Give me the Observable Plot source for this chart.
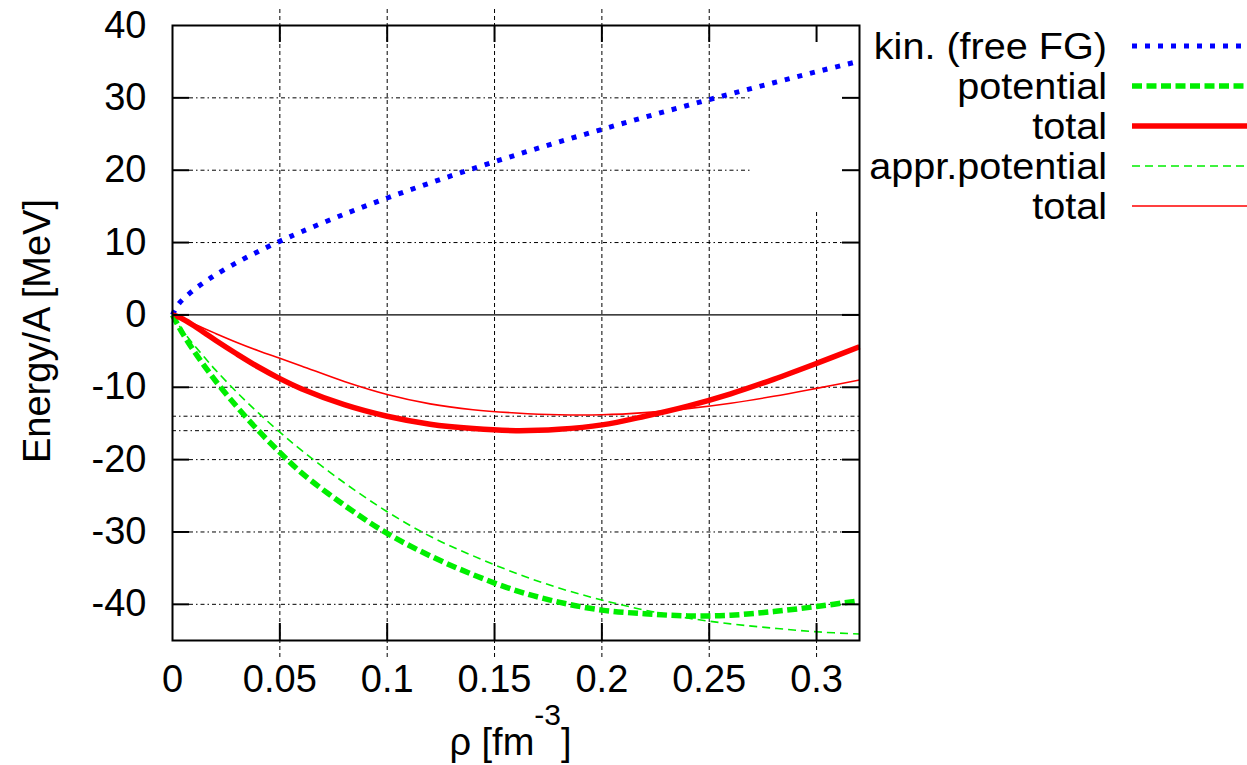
<!DOCTYPE html>
<html>
<head>
<meta charset="utf-8">
<script src="https://cdn.jsdelivr.net/npm/d3@7"></script>
<script src="https://cdn.jsdelivr.net/npm/@observablehq/plot@0.6"></script>
<style>
html, body { margin: 0; padding: 0; background: #fff; }
#wrap { position: relative; width: 1247px; height: 765px; overflow: hidden; }
#wrap > svg { position: absolute; left: 0; top: 0; }
</style>
</head>
<body>
<div id="wrap"></div>
<script>
// ---- data ----
const rho = [0, 0.0025, 0.005, 0.01, 0.015, 0.02, 0.03, 0.04, 0.05, 0.06, 0.08, 0.10, 0.12, 0.14, 0.16, 0.18, 0.20, 0.22, 0.24, 0.26, 0.28, 0.30, 0.32];
const kinetic = [0, 1.38, 2.19, 3.48, 4.56, 5.53, 7.24, 8.77, 10.18, 11.49, 13.92, 16.16, 18.24, 20.22, 22.10, 23.91, 25.64, 27.33, 28.96, 30.55, 32.09, 33.61, 35.08];
const potential = [0, -1.4, -2.7, -5.0, -7.1, -9.1, -12.7, -16.0, -19.0, -21.8, -26.3, -30.2, -33.3, -35.9, -38.1, -39.7, -40.8, -41.3, -41.6, -41.5, -41.0, -40.3, -39.5];
const total = [0, -0.25, -0.6, -1.5, -2.5, -3.5, -5.4, -7.2, -8.8, -10.2, -12.4, -14.0, -15.1, -15.7, -16.0, -15.8, -15.2, -14.0, -12.6, -10.9, -8.9, -6.7, -4.4];
const apprPotential = [0, -1.2, -2.3, -4.15, -5.9, -7.6, -10.7, -13.55, -16.2, -18.7, -23.2, -27.2, -30.6, -33.3, -35.7, -37.75, -39.4, -40.8, -41.9, -42.7, -43.3, -43.8, -44.1];
const apprTotal = [0, -0.3, -0.6, -1.25, -1.9, -2.55, -3.8, -4.95, -6.0, -7.05, -9.2, -11.0, -12.3, -13.1, -13.55, -13.8, -13.8, -13.5, -12.95, -12.2, -11.25, -10.15, -9.0];

const seriesNames = ["kin. (free FG)", "potential", "total", "appr.potential", "total"];

const xTicks = [0, 0.05, 0.1, 0.15, 0.2, 0.25, 0.3];
const xTickLabels = ["0", "0.05", "0.1", "0.15", "0.2", "0.25", "0.3"];
const yTicks = [40, 30, 20, 10, 0, -10, -20, -30, -40];
const yTickLabels = ["40", "30", "20", "10", "0", "-10", "-20", "-30", "-40"];

// grid lines (gnuplot-style); some are cut short by the key area
const gridY = [30, 20, 10, -10, -20, -30, -40];
const gridYEnd = [0.277, 0.277, 0.32, 0.32, 0.32, 0.32, 0.32];
const gridX = [0.05, 0.1, 0.15, 0.2, 0.25, 0.3];
const gridXTop = [40, 40, 40, 40, 40, 11.8];
const refLevels = [-14, -16];

const xLabel = "ρ [fm";
const xLabelSup = "-3";
const xLabelEnd = "]";
const yLabel = "Energy/A [MeV]";

// ---- styles ----
const FONT = "'Liberation Sans', Arial, Helvetica, sans-serif";
const styles = [
  {stroke: "#0000ff", strokeWidth: 5, strokeDasharray: "5,8"},
  {stroke: "#00ee00", strokeWidth: 5.5, strokeDasharray: "10,4.5"},
  {stroke: "#ff0000", strokeWidth: 5.5},
  {stroke: "#00ee00", strokeWidth: 1.6, strokeDasharray: "8,5"},
  {stroke: "#ff0000", strokeWidth: 1.6}
];
const seriesValues = [kinetic, potential, total, apprPotential, apprTotal];

const W = 1247, H = 765;
const mL = 172, mR = 388, mT = 25, mB = 125;
const frameW = W - mL - mR, frameH = H - mT - mB;
const TICK = 17;

const gridYData = gridY.map((y, i) => ({y, x2: gridYEnd[i]}));
const gridXData = gridX.map((x, i) => ({x, y2: gridXTop[i]}));
const gridStyle = {stroke: "#000", strokeWidth: 1, strokeDasharray: "4,3,1.5,3"};
const tickStyle = {stroke: "#000", strokeWidth: 2};

const lineMarks = seriesValues.map((vals, k) =>
  Plot.line(rho.map((r, i) => ({rho: r, e: vals[i]})), {x: "rho", y: "e", curve: "catmull-rom", strokeLinecap: "butt", ...styles[k]})
);

const chart = Plot.plot({
  width: W, height: H,
  marginLeft: mL, marginRight: mR, marginTop: mT, marginBottom: mB,
  style: {fontSize: "38px", fontFamily: FONT, color: "#000", background: "#fff"},
  x: {domain: [0, 0.32], label: null},
  y: {domain: [-45, 40], label: null},
  marks: [
    // grid
    Plot.ruleY(gridYData, {y: "y", x1: 0, x2: "x2", insetLeft: TICK, insetRight: TICK, ...gridStyle}),
    Plot.ruleX(gridXData, {x: "x", y1: -45, y2: "y2", insetTop: TICK, insetBottom: TICK, ...gridStyle, strokeDasharray: "4,3"}),
    Plot.ruleY(refLevels, {...gridStyle}),
    // zero axis
    Plot.ruleY([0], {stroke: "#000", strokeWidth: 1.2}),
    // curves
    ...lineMarks,
    // tick labels
    Plot.axisX(xTicks, {anchor: "bottom", tickSize: 0, tickPadding: 25, tickFormat: d => xTickLabels[xTicks.indexOf(d)]}),
    Plot.axisY(yTicks, {anchor: "left", tickSize: 0, tickPadding: 26, tickFormat: d => yTickLabels[yTicks.indexOf(d)]}),
    // inward ticks on all four sides
    Plot.ruleX(xTicks.slice(1), {insetTop: frameH - TICK, ...tickStyle}),
    Plot.ruleX(xTicks.slice(1), {insetBottom: frameH - TICK, ...tickStyle}),
    Plot.ruleY(yTicks.slice(1), {insetRight: frameW - TICK, ...tickStyle}),
    Plot.ruleY(yTicks.slice(1), {insetLeft: frameW - TICK, ...tickStyle}),
    Plot.frame({stroke: "#000", strokeWidth: 2})
  ]
});

const wrap = document.getElementById("wrap");
wrap.appendChild(chart);

// ---- overlay: axis titles and key ----
const ov = d3.select(wrap).append("svg")
  .attr("width", W).attr("height", H)
  .attr("font-family", FONT)
  .style("pointer-events", "none");

// y axis title
ov.append("text")
  .attr("transform", `translate(50,331) rotate(-90)`)
  .attr("text-anchor", "middle")
  .attr("font-size", 38)
  .attr("fill", "#000")
  .text(yLabel);

// x axis title with superscript
const xt = ov.append("text")
  .attr("x", (mL + (W - mR)) / 2 - 5)
  .attr("y", 755)
  .attr("text-anchor", "middle")
  .attr("font-size", 38)
  .attr("fill", "#000");
xt.append("tspan").text(xLabel);
xt.append("tspan").attr("dy", -30).attr("font-size", 30).text(xLabelSup);
xt.append("tspan").attr("dy", 30).text(xLabelEnd);

// key
const keyTextRight = 1107, keyLineX1 = 1132, keyLineX2 = 1247;
const rowY0 = 46, rowStep = 40;
seriesNames.forEach((name, k) => {
  const y = rowY0 + k * rowStep;
  const t = ov.append("text")
    .attr("x", keyTextRight)
    .attr("y", y + 13)
    .attr("text-anchor", "end")
    .attr("font-size", 37)
    .attr("fill", "#000")
    .text(name);
  const len = t.node().getComputedTextLength();
  t.attr("textLength", len * 1.07).attr("lengthAdjust", "spacingAndGlyphs");
  const s = styles[k];
  ov.append("line")
    .attr("x1", keyLineX1).attr("x2", keyLineX2)
    .attr("y1", y).attr("y2", y)
    .attr("stroke", s.stroke)
    .attr("stroke-width", s.strokeWidth)
    .attr("stroke-dasharray", s.strokeDasharray || null);
});
</script>
</body>
</html>
